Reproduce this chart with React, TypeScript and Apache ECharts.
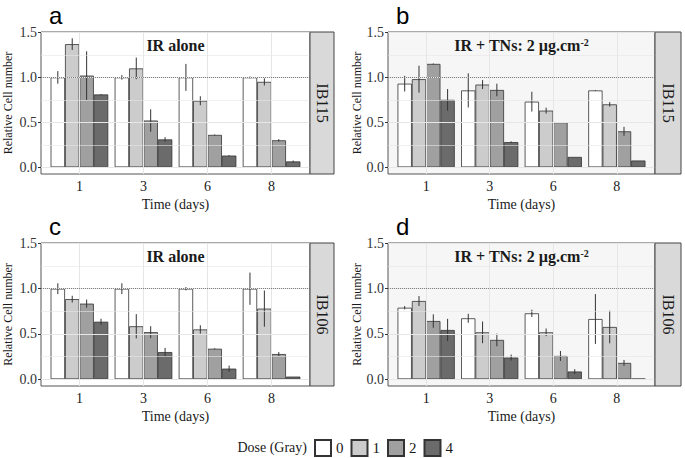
import React, { useEffect, useRef } from 'react';
import * as echarts from 'echarts';

const days = ['1', '3', '6', '8'];
const doses = ['0', '1', '2', '4'];
const doseColors = ['#ffffff', '#cccccc', '#a0a0a0', '#6b6b6b'];
const yTicks = [0, 0.5, 1, 1.5];
const yMinor = [0.25, 0.75, 1.25];

// means: [dose][day]
const aMeans = [
  [1.0, 1.0, 1.0, 1.0],
  [1.37, 1.1, 0.74, 0.95],
  [1.02, 0.52, 0.36, 0.3],
  [0.81, 0.31, 0.13, 0.065],
];
const aErrs = [
  [0.07, 0.025, 0.15, 0.01],
  [0.065, 0.12, 0.05, 0.04],
  [0.27, 0.125, 0.005, 0.013],
  [0.005, 0.025, 0.005, 0.01],
];
const bMeans = [
  [0.93, 0.855, 0.73, 0.855],
  [0.98, 0.92, 0.63, 0.7],
  [1.15, 0.86, 0.5, 0.4],
  [0.75, 0.28, 0.115, 0.075],
];
const bErrs = [
  [0.087, 0.19, 0.11, 0.005],
  [0.15, 0.05, 0.033, 0.025],
  [0.005, 0.07, 0, 0.05],
  [0.12, 0.008, 0, 0],
];
const cMeans = [
  [1.0, 1.0, 1.0, 1.0],
  [0.885, 0.585, 0.55, 0.78],
  [0.835, 0.52, 0.337, 0.278],
  [0.635, 0.3, 0.117, 0.029],
];
const cErrs = [
  [0.06, 0.06, 0.018, 0.178],
  [0.037, 0.134, 0.046, 0.2],
  [0.045, 0.066, 0.005, 0.022],
  [0.033, 0.046, 0.033, 0],
];
const dMeans = [
  [0.79, 0.673, 0.728, 0.665],
  [0.864, 0.518, 0.518, 0.577],
  [0.643, 0.434, 0.257, 0.18],
  [0.544, 0.239, 0.085, 0.005],
];
const dErrs = [
  [0.018, 0.05, 0.04, 0.275],
  [0.055, 0.12, 0.042, 0.18],
  [0.074, 0.07, 0.055, 0.033],
  [0.123, 0.033, 0.026, 0],
];

const panelTitles = ['IR alone', 'IR + TNs', 'IR alone', 'IR + TNs'];
const stripLabels = ['IB115', 'IB115', 'IB106', 'IB106'];
const panelLetters = ['a', 'b', 'c', 'd'];

const SERIF = 'Liberation Serif, DejaVu Serif, serif';

export default function App() {
  const ref = useRef<HTMLDivElement>(null);
  useEffect(() => {
    if (!ref.current) return;
    const chart = echarts.init(ref.current, undefined, { renderer: 'svg' });

    const panels = [
      { means: aMeans, errs: aErrs, grid: { left: 41, top: 32, width: 269, height: 142 }, bg: '#ffffff', nameGap: 27 },
      { means: bMeans, errs: bErrs, grid: { left: 388, top: 32, width: 267, height: 142 }, bg: '#f6f6f6', nameGap: 25 },
      { means: cMeans, errs: cErrs, grid: { left: 41, top: 243, width: 269, height: 143 }, bg: '#ffffff', nameGap: 27 },
      { means: dMeans, errs: dErrs, grid: { left: 388, top: 243, width: 267, height: 143 }, bg: '#f6f6f6', nameGap: 25 },
    ];

    const grids: any[] = [];
    const xAxes: any[] = [];
    const yAxes: any[] = [];
    const series: any[] = [];
    const graphics: any[] = [];

    panels.forEach((p, i) => {
      grids.push({
        ...p.grid,
        show: true,
        backgroundColor: p.bg,
        borderColor: '#555555',
        borderWidth: 1,
        containLabel: false,
      });
      xAxes.push({
        type: 'value',
        gridIndex: i,
        min: 0.4,
        max: 4.6,
        name: 'Time (days)',
        nameLocation: 'middle',
        nameGap: 23,
        nameTextStyle: { fontFamily: SERIF, fontSize: 14, color: '#1a1a1a' },
        axisLine: { show: false },
        splitLine: { show: false },
        axisTick: { show: true, customValues: [1, 2, 3, 4], length: 3, lineStyle: { color: '#333333' } },
        axisLabel: {
          customValues: [1, 2, 3, 4],
          formatter: (v: number) => days[Math.round(v) - 1] ?? '',
          fontFamily: SERIF,
          fontSize: 14,
          color: '#1a1a1a',
          margin: 5,
        },
      });
      yAxes.push({
        type: 'value',
        gridIndex: i,
        min: -0.075,
        max: 1.505,
        name: 'Relative Cell number',
        nameLocation: 'middle',
        nameRotate: 90,
        nameGap: p.nameGap,
        nameTextStyle: { fontFamily: SERIF, fontSize: 12, color: '#1a1a1a' },
        axisLine: { show: false },
        splitLine: { show: false },
        axisTick: { show: true, customValues: yTicks, length: 3, lineStyle: { color: '#333333' } },
        axisLabel: {
          customValues: yTicks,
          formatter: (v: number) => v.toFixed(1),
          fontFamily: SERIF,
          fontSize: 14,
          color: '#333333',
          margin: 4,
        },
      });

      const gridColor = '#e6e6e6';
      const markData: any[] = [];
      yTicks.forEach((v) => markData.push({ yAxis: v, lineStyle: { color: gridColor, width: 1, type: 'solid' } }));
      yMinor.forEach((v) => markData.push({ yAxis: v, lineStyle: { color: gridColor, width: 0.6, type: 'solid' } }));
      [1, 2, 3, 4].forEach((v) => markData.push({ xAxis: v, lineStyle: { color: gridColor, width: 1, type: 'solid' } }));
      markData.push({ yAxis: 1, lineStyle: { color: '#808080', width: 1, type: 'dotted' } });

      series.push({
        type: 'line',
        name: 'grid' + i,
        xAxisIndex: i,
        yAxisIndex: i,
        data: [],
        z: 1,
        silent: true,
        symbol: 'none',
        markLine: {
          silent: true,
          symbol: ['none', 'none'],
          label: { show: false },
          emphasis: { disabled: true },
          data: markData,
        },
      });

      const pxPerUnit = p.grid.width / 4.2;
      const bw = 0.225 * pxPerUnit;

      doses.forEach((d, k) => {
        series.push({
          type: 'bar',
          name: d,
          xAxisIndex: i,
          yAxisIndex: i,
          barWidth: bw,
          barGap: '0%',
          z: 2,
          itemStyle: { color: doseColors[k], borderColor: '#333333', borderWidth: 0.8 },
          emphasis: { disabled: true },
          data: days.map((_, j) => [j + 1, p.means[k][j]]),
        });
      });

      const errData: any[] = [];
      doses.forEach((_, k) => {
        days.forEach((__, j) => {
          errData.push([j + 1, p.means[k][j], p.errs[k][j], k]);
        });
      });
      series.push({
        type: 'custom',
        name: 'err' + i,
        xAxisIndex: i,
        yAxisIndex: i,
        z: 3,
        silent: true,
        encode: { x: 0, y: 1 },
        data: errData,
        renderItem: (params: any, api: any) => {
          const x = api.value(0);
          const y = api.value(1);
          const e = api.value(2);
          const k = api.value(3);
          if (!(e > 0)) return null;
          const off = (k - 1.5) * 0.225;
          const p1 = api.coord([x + off, y + e]);
          const p2 = api.coord([x + off, y - e]);
          return {
            type: 'line',
            shape: { x1: p1[0], y1: p1[1], x2: p2[0], y2: p2[1] },
            style: { stroke: '#333333', lineWidth: 1 },
          };
        },
      });

      // strip
      const sx = p.grid.left + p.grid.width;
      const sw = i % 2 === 0 ? 24 : 26;
      graphics.push({
        type: 'rect',
        shape: { x: sx, y: p.grid.top, width: sw, height: p.grid.height },
        style: { fill: '#d9d9d9', stroke: '#444444', lineWidth: 1 },
        z: 10,
      });
      graphics.push({
        type: 'text',
        x: sx + sw / 2,
        y: p.grid.top + p.grid.height / 2,
        rotation: -Math.PI / 2,
        style: {
          text: stripLabels[i],
          fontFamily: SERIF,
          fontSize: 16,
          fill: '#1a1a1a',
          align: 'center',
          verticalAlign: 'middle',
        },
        z: 11,
      });

      // title
      const cx = p.grid.left + p.grid.width / 2;
      const ty = p.grid.top + 13;
      if (i % 2 === 0) {
        graphics.push({
          type: 'text',
          x: cx,
          y: ty,
          style: {
            text: panelTitles[i],
            fontFamily: SERIF,
            fontSize: 16,
            fontWeight: 'bold',
            fill: '#1a1a1a',
            align: 'center',
            verticalAlign: 'middle',
          },
          z: 11,
        });
      } else {
        graphics.push({
          type: 'text',
          x: cx,
          y: ty,
          style: {
            text: '{m|' + panelTitles[i] + ': 2 µg.cm}{s|-2}',
            align: 'center',
            verticalAlign: 'middle',
            rich: {
              m: { fontFamily: SERIF, fontSize: 16, fontWeight: 'bold', fill: '#1a1a1a', color: '#1a1a1a' },
              s: {
                fontFamily: SERIF,
                fontSize: 10,
                fontWeight: 'bold',
                fill: '#1a1a1a',
                color: '#1a1a1a',
                verticalAlign: 'top',
                padding: [0, 0, 6, 0],
              },
            },
          },
          z: 11,
        });
      }

      // panel letter
      graphics.push({
        type: 'text',
        x: p.grid.left + 8,
        y: p.grid.top - 17,
        style: {
          text: panelLetters[i],
          fontFamily: 'Liberation Sans, Arial, sans-serif',
          fontSize: 24,
          fill: '#000000',
          align: 'left',
          verticalAlign: 'middle',
        },
        z: 11,
      });
    });

    graphics.push({
      type: 'text',
      x: 307,
      y: 447,
      style: {
        text: 'Dose (Gray)',
        fontFamily: SERIF,
        fontSize: 14,
        fill: '#1a1a1a',
        align: 'right',
        verticalAlign: 'middle',
      },
    });

    chart.setOption({
      animation: false,
      grid: grids,
      xAxis: xAxes,
      yAxis: yAxes,
      series,
      graphic: graphics,
      legend: {
        data: doses,
        left: 314,
        top: 439,
        padding: 0,
        itemWidth: 16,
        itemHeight: 16,
        itemGap: 7,
        icon: 'rect',
        selectedMode: false,
        textStyle: { fontFamily: SERIF, fontSize: 15, color: '#1a1a1a' },
      },
    });

    return () => chart.dispose();
  }, []);

  return (
    <div
      ref={ref}
      style={{ position: 'fixed', left: 0, top: 0, width: 685, height: 458, background: '#ffffff' }}
    />
  );
}
